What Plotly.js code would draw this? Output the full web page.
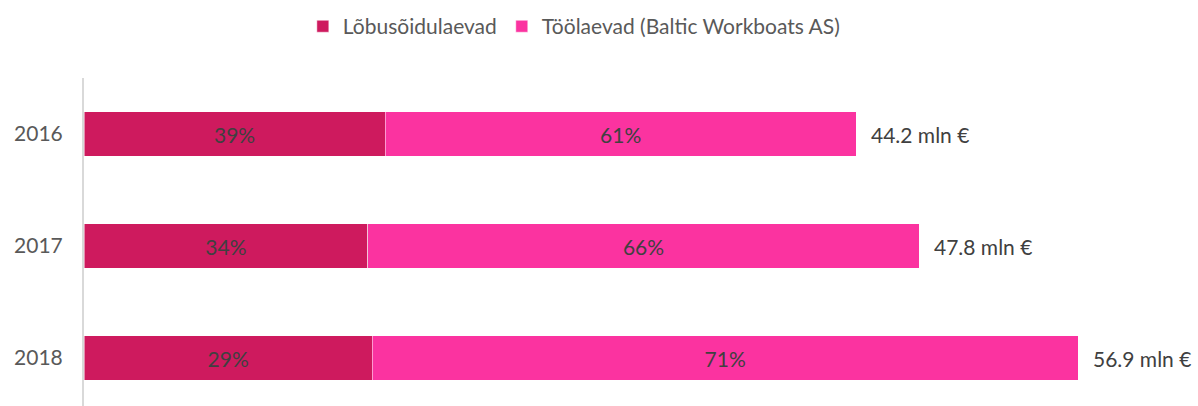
<!DOCTYPE html>
<html>
<head>
<meta charset="utf-8">
<script src="https://cdn.plot.ly/plotly-3.0.1.min.js"></script>
<style>html,body{margin:0;padding:0;background:#fff;}#chart{width:1198px;height:406px;}</style>
</head>
<body>
<div id="chart"></div>
<script>
const years = ['2016', '2017', '2018'];
const totals = [44.2, 47.8, 56.9];
const pctPassenger = [39, 34, 29];
const pctWork = [61, 66, 71];
const seriesNames = ['Lõbusõidulaevad', 'Töölaevad (Baltic Workboats AS)'];
const colors = ['#CE1A5E', '#FB33A0'];

const valPassenger = totals.map((t, i) => t * pctPassenger[i] / 100);
const valWork = totals.map((t, i) => t * pctWork[i] / 100);

const FONT = 'Lato, "Open Sans", sans-serif';
const FS = 21;

function barTrace(name, vals, pcts, color) {
  return {
    type: 'bar', orientation: 'h', name: name,
    y: years, x: vals,
    text: pcts.map(p => p + '%'),
    textposition: 'inside', insidetextanchor: 'middle',
    constraintext: 'none',
    textfont: {family: FONT, size: FS, color: '#404040'},
    marker: {color: color, line: {color: 'rgba(255,255,255,0.5)', width: 1}},
    hoverinfo: 'none'
  };
}

const data = [
  barTrace(seriesNames[0], valPassenger, pctPassenger, colors[0]),
  barTrace(seriesNames[1], valWork, pctWork, colors[1])
];

const annotations = years.map((y, i) => ({
  x: totals[i], y: i, xref: 'x', yref: 'y',
  text: totals[i].toFixed(1) + ' mln €',
  showarrow: false, xanchor: 'left', yanchor: 'middle', xshift: 13,
  font: {family: FONT, size: FS, color: '#404040'}
}));

const layout = {
  width: 1198, height: 406,
  margin: {l: 84, r: 0, t: 78, b: 0},
  paper_bgcolor: '#fff', plot_bgcolor: '#fff',
  barmode: 'stack', bargap: 0.607,
  showlegend: true,
  legend: {
    orientation: 'h', xref: 'container', yref: 'container',
    x: 0.479, xanchor: 'center', y: 0.985, yanchor: 'top',
    font: {family: FONT, size: FS, color: '#595959'},
    traceorder: 'normal'
  },
  xaxis: {
    range: [0, 1114 / 17.47], showgrid: false, zeroline: false,
    showticklabels: false, showline: false, fixedrange: true
  },
  yaxis: {
    type: 'category', range: [2.4286, -0.5],
    showgrid: false, zeroline: false,
    showline: true, linecolor: '#d9d9d9', linewidth: 2,
    ticks: '', ticklabelstandoff: 15,
    tickfont: {family: FONT, size: FS, color: '#595959'}
  },
  annotations: annotations,
  font: {family: FONT}
};

Plotly.newPlot('chart', data, layout, {displayModeBar: false, staticPlot: true});
</script>
</body>
</html>
